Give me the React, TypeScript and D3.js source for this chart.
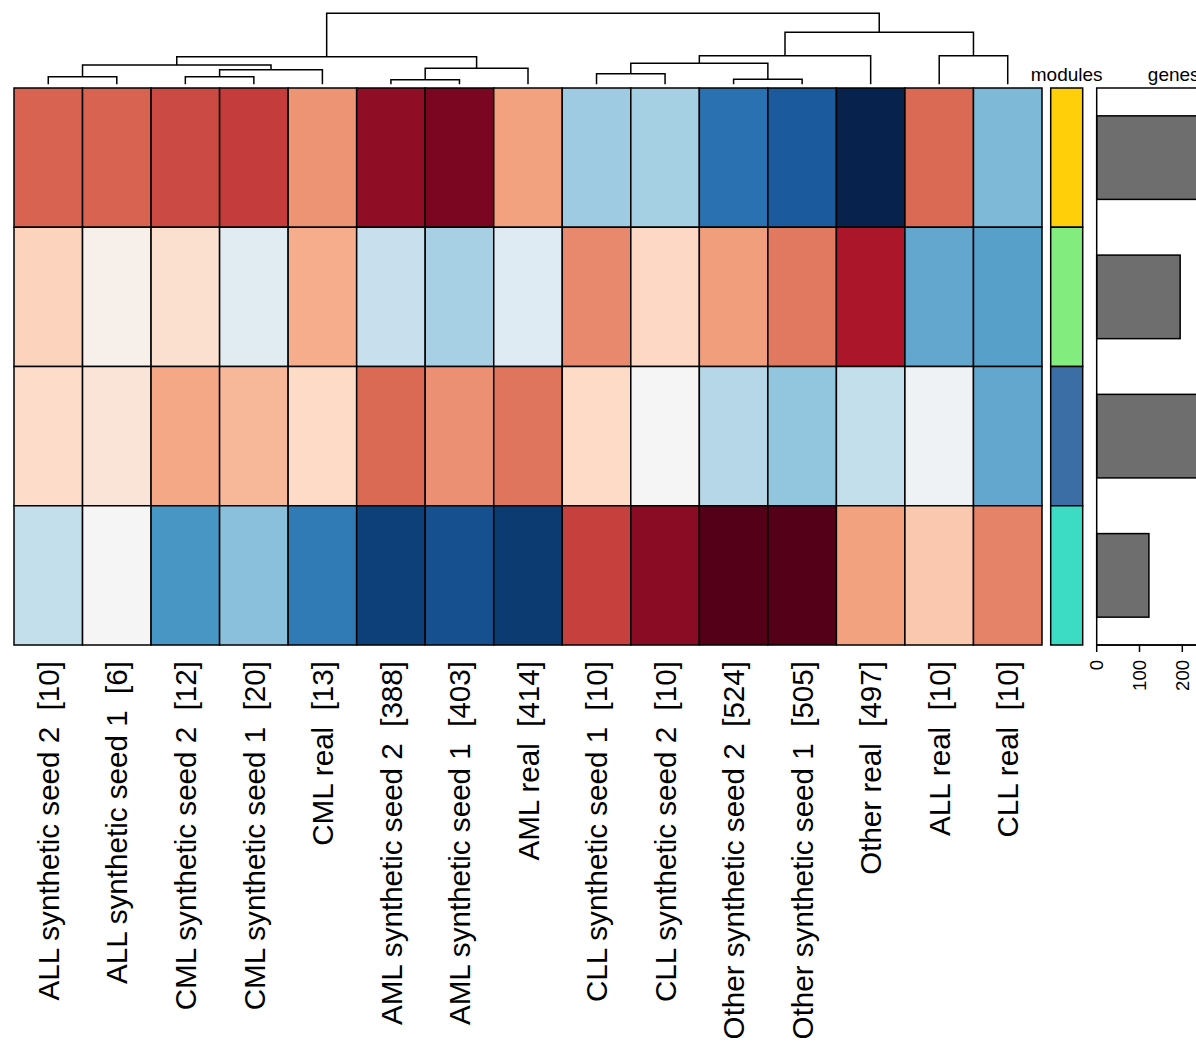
import React from "react";
import * as d3 from "d3";

// ---------- data ----------
const SAMPLES = [
  "ALL synthetic seed 2",
  "ALL synthetic seed 1",
  "CML synthetic seed 2",
  "CML synthetic seed 1",
  "CML real",
  "AML synthetic seed 2",
  "AML synthetic seed 1",
  "AML real",
  "CLL synthetic seed 1",
  "CLL synthetic seed 2",
  "Other synthetic seed 2",
  "Other synthetic seed 1",
  "Other real",
  "ALL real",
  "CLL real",
];
const SAMPLE_N = [10, 6, 12, 20, 13, 388, 403, 414, 10, 10, 524, 505, 497, 10, 10];

const MODULES = ["yellow", "green", "blue", "turquoise"];
const MODULE_COLORS = ["#ffd00a", "#82ec7f", "#3a6ea5", "#3cdcc4"];
const GENE_COUNTS = [310, 195, 345, 122];
const GENE_TICKS = [0, 100, 200];

const ROW_YELLOW = [0.59, 0.59, 0.66, 0.7, 0.45, 0.89, 0.95, 0.41, -0.36, -0.34, -0.75, -0.84, -1.17, 0.57, -0.45];
const ROW_GREEN = [0.23, 0.05, 0.16, -0.11, 0.37, -0.23, -0.33, -0.13, 0.48, 0.21, 0.42, 0.53, 0.82, -0.52, -0.55];
const ROW_BLUE = [0.19, 0.13, 0.39, 0.33, 0.2, 0.57, 0.46, 0.54, 0.2, 0.0, -0.29, -0.4, -0.24, -0.04, -0.52];
const ROW_TURQUOISE = [-0.24, 0.0, -0.59, -0.42, -0.71, -0.94, -0.88, -0.96, 0.69, 0.91, 1.18, 1.17, 0.41, 0.27, 0.5];
const ROWS = [ROW_YELLOW, ROW_GREEN, ROW_BLUE, ROW_TURQUOISE];

// hclust-style merges: negative = leaf (1-based), positive = earlier merge (1-based)
const MERGE_LEFT = [-1, -3, -6, -9, -11, 2, 3, 1, 8, 4, 10, -14, 11, 9];
const MERGE_RIGHT = [-2, -4, -7, -10, -12, -5, -8, 6, 7, 5, -13, -15, 12, 13];
const MERGE_HEIGHT = [0.76, 0.76, 0.46, 1.06, 0.5, 1.46, 1.6, 1.93, 2.76, 2.1, 2.86, 2.86, 5.2, 7.1];

const COLOR_STOPS = [-1.2, -1, -0.8, -0.6, -0.4, -0.2, 0, 0.2, 0.4, 0.6, 0.8, 1, 1.2];
const COLOR_RANGE = [
  "#07204a", "#053061", "#2166ac", "#4393c3", "#92c5de", "#d1e5f0", "#f5f5f5",
  "#fddbc7", "#f4a582", "#d6604d", "#b2182b", "#67001f", "#520018",
];

const FONT = "'Liberation Sans', Arial, Helvetica, sans-serif";

export default function App() {
  const W = 1196;
  const H = 1053;
  const x = d3.scaleBand<string>().domain(SAMPLES).range([14, 1042]);
  const y = d3.scaleBand<string>().domain(MODULES).range([88, 645]);
  const color = d3
    .scaleLinear<string>()
    .domain(COLOR_STOPS)
    .range(COLOR_RANGE)
    .interpolate(d3.interpolateRgb)
    .clamp(true);
  const dy = d3.scaleLinear().domain([0, 7.1]).range([84.3, 13.3]);

  // dendrogram
  const nodeX: number[] = [];
  const nodeH: number[] = [];
  const paths: string[] = [];
  const pos = (id: number) =>
    id < 0
      ? { x: (x(SAMPLES[-id - 1]) as number) + x.bandwidth() / 2, h: 0 }
      : { x: nodeX[id - 1], h: nodeH[id - 1] };
  MERGE_HEIGHT.forEach((h, i) => {
    const a = pos(MERGE_LEFT[i]);
    const b = pos(MERGE_RIGHT[i]);
    nodeX[i] = (a.x + b.x) / 2;
    nodeH[i] = h;
    const p = d3.path();
    p.moveTo(a.x, dy(a.h));
    p.lineTo(a.x, dy(h));
    p.lineTo(b.x, dy(h));
    p.lineTo(b.x, dy(b.h));
    paths.push(p.toString());
  });

  // genes panel
  const gx = d3.scaleLinear().domain([0, 360]).range([1096.7, 1096.7 + 360 * 0.428]);
  const gy = d3.scaleBand<string>().domain(MODULES).range([88, 645]).paddingInner(0.4).paddingOuter(0.2);
  const modX0 = 1050.7;
  const modX1 = 1082.7;

  const label = (name: string, n: number) => `${name}  [${n}]`;

  return (
    <div style={{ position: "absolute", left: 0, top: 0 }}>
      <svg width={W} height={H} style={{ display: "block", background: "#fff" }} fontFamily={FONT}>
        <rect width={W} height={H} fill="#fff" />
        {/* dendrogram */}
        <g fill="none" stroke="#000" strokeWidth={1.5}>
          {paths.map((d, i) => (
            <path key={i} d={d} />
          ))}
        </g>
        {/* heatmap */}
        <g stroke="#000" strokeWidth={1.5}>
          {ROWS.map((row, r) =>
            row.map((v, c) => (
              <rect
                key={`${r}-${c}`}
                x={x(SAMPLES[c])}
                y={y(MODULES[r])}
                width={x.bandwidth()}
                height={y.bandwidth()}
                fill={color(v)}
              />
            ))
          )}
        </g>
        {/* column labels */}
        <g fontSize={29.6} fill="#000">
          {SAMPLES.map((s, i) => (
            <text
              key={s}
              transform={`translate(${(x(s) as number) + x.bandwidth() / 2},661) rotate(-90)`}
              textAnchor="end"
              dy="0.36em"
              style={{ whiteSpace: "pre" }}
            >
              {label(s, SAMPLE_N[i])}
            </text>
          ))}
        </g>
        {/* modules annotation */}
        <g stroke="#000" strokeWidth={1.5}>
          {MODULES.map((m, i) => (
            <rect key={m} x={modX0} y={y(m)} width={modX1 - modX0} height={y.bandwidth()} fill={MODULE_COLORS[i]} />
          ))}
        </g>
        <text x={(modX0 + modX1) / 2} y={80.7} fontSize={19} textAnchor="middle">
          modules
        </text>
        {/* genes panel */}
        <text x={(gx(0) + gx(360)) / 2} y={80.7} fontSize={19} textAnchor="middle">
          genes
        </text>
        <g stroke="#000" strokeWidth={1.5}>
          {MODULES.map((m, i) => (
            <rect
              key={m}
              x={gx(0)}
              y={gy(m)}
              width={gx(GENE_COUNTS[i]) - gx(0)}
              height={gy.bandwidth()}
              fill="#6e6e6e"
            />
          ))}
          <rect x={gx(0)} y={88} width={gx(360) - gx(0)} height={557} fill="none" />
          {GENE_TICKS.map((t) => (
            <line key={t} x1={gx(t)} x2={gx(t)} y1={645} y2={652} />
          ))}
          <line x1={gx(0)} x2={gx(360)} y1={645} y2={645} />
        </g>
        <g fontSize={18.5}>
          {GENE_TICKS.map((t) => (
            <text
              key={t}
              transform={`translate(${gx(t)},660) rotate(-90)`}
              textAnchor="end"
              dy="0.36em"
            >
              {t}
            </text>
          ))}
        </g>
      </svg>
    </div>
  );
}
